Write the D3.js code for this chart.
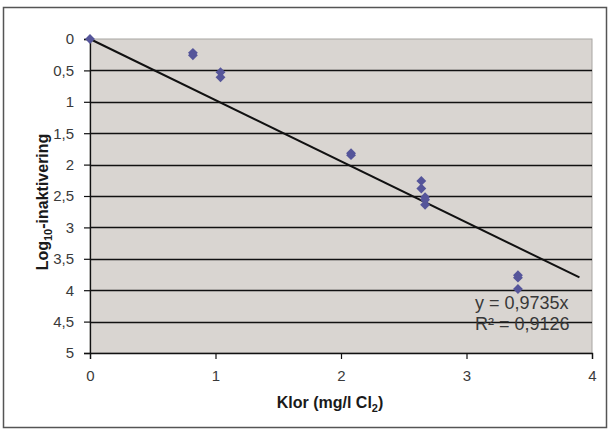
<!DOCTYPE html>
<html>
<head>
<meta charset="utf-8">
<script src="https://cdn.jsdelivr.net/npm/d3@7"></script>
<style>
  html, body { margin: 0; padding: 0; background: #fff; }
  svg { display: block; font-family: "Liberation Sans", Arial, sans-serif; }
</style>
</head>
<body>
<svg id="chart" width="609" height="430"></svg>
<script>
// ---- data ----
const chlorine = [0, 0.82, 0.82, 1.04, 1.04, 2.08, 2.08, 2.64, 2.64, 2.67, 2.67, 2.67, 3.41, 3.41, 3.41];
const logInactivation = [0, 0.22, 0.26, 0.53, 0.61, 1.82, 1.85, 2.26, 2.38, 2.52, 2.56, 2.64, 3.76, 3.80, 3.98];
const xTicks = [0, 1, 2, 3, 4];
const yTicks = [0, 0.5, 1, 1.5, 2, 2.5, 3, 3.5, 4, 4.5, 5];
const trendSlope = 0.9735;
const trendRange = [0, 3.9];
const equationLines = ["y = 0,9735x", "R² = 0,9126"];

// ---- layout ----
const svg = d3.select("#chart");
const plot = { left: 90, right: 592, top: 39, bottom: 353 };

const x = d3.scaleLinear().domain([0, 4]).range([plot.left, plot.right]);
const y = d3.scaleLinear().domain([0, 5]).range([plot.top, plot.bottom]);

const locale = d3.formatLocale({ decimal: ",", thousands: " ", grouping: [3], currency: ["", ""] });
const fmt = locale.format("~g");

// outer border
svg.append("rect")
  .attr("x", 3.5).attr("y", 7.5).attr("width", 603).attr("height", 420)
  .attr("fill", "#fff").attr("stroke", "#555").attr("stroke-width", 1.5);

// plot background
svg.append("rect")
  .attr("x", plot.left).attr("y", plot.top)
  .attr("width", plot.right - plot.left).attr("height", plot.bottom - plot.top)
  .attr("fill", "#d9d5d1").attr("stroke", "#a8a5a2").attr("stroke-width", 1);

// gridlines
svg.append("g").selectAll("line")
  .data(yTicks.filter(d => d > 0 && d < 5))
  .join("line")
  .attr("x1", plot.left).attr("x2", plot.right)
  .attr("y1", d => Math.round(y(d)) + 0.5).attr("y2", d => Math.round(y(d)) + 0.5)
  .attr("stroke", "#111").attr("stroke-width", 1.3);

// y axis
const yAxis = svg.append("g")
  .attr("transform", `translate(${plot.left},0)`)
  .call(d3.axisLeft(y).tickValues(yTicks).tickFormat(fmt).tickSize(6).tickPadding(10));
yAxis.select(".domain").attr("stroke", "#111").attr("stroke-width", 1.3);
yAxis.selectAll(".tick line").attr("stroke", "#111").attr("stroke-width", 1.2);
yAxis.selectAll(".tick text").attr("fill", "#3a3a3a").style("font-size", "15px")
  .style("font-family", "'Liberation Sans', Arial, sans-serif");

// x axis
const xAxis = svg.append("g")
  .attr("transform", `translate(0,${plot.bottom})`)
  .call(d3.axisBottom(x).tickValues(xTicks).tickFormat(fmt).tickSize(6).tickPadding(11));
xAxis.select(".domain").attr("stroke", "#111").attr("stroke-width", 1.3);
xAxis.selectAll(".tick line").attr("stroke", "#111").attr("stroke-width", 1.2);
xAxis.selectAll(".tick text").attr("fill", "#3a3a3a").style("font-size", "15px")
  .style("font-family", "'Liberation Sans', Arial, sans-serif");

// trend line
svg.append("line")
  .attr("x1", x(trendRange[0])).attr("y1", y(trendSlope * trendRange[0]))
  .attr("x2", x(trendRange[1])).attr("y2", y(trendSlope * trendRange[1]))
  .attr("stroke", "#111").attr("stroke-width", 2);

// points
const pts = chlorine.map((c, i) => ({ x: c, y: logInactivation[i] }));
svg.append("g").selectAll("path")
  .data(pts)
  .join("path")
  .attr("transform", d => `translate(${x(d.x)},${y(d.y)})`)
  .attr("d", d3.symbol().type(d3.symbolDiamond2).size(62))
  .attr("fill", "#55559a");

// equation
svg.append("g").selectAll("text")
  .data(equationLines)
  .join("text")
  .attr("x", 475).attr("y", (d, i) => 309 + i * 21)
  .attr("fill", "#383838").style("font-size", "18px")
  .text(d => d);

// x title
const xt = svg.append("text")
  .attr("x", 330).attr("y", 408).attr("text-anchor", "middle")
  .attr("fill", "#1a1a1a").style("font-size", "16px").style("font-weight", "bold");
xt.append("tspan").text("Klor (mg/l Cl");
xt.append("tspan").attr("dy", 4).style("font-size", "11px").text("2");
xt.append("tspan").attr("dy", -4).text(")");

// y title
const yt = svg.append("text")
  .attr("transform", "translate(48,202) rotate(-90)")
  .attr("text-anchor", "middle")
  .attr("fill", "#1a1a1a").style("font-size", "16px").style("font-weight", "bold");
yt.append("tspan").text("Log");
yt.append("tspan").attr("dy", 4).style("font-size", "11px").text("10");
yt.append("tspan").attr("dy", -4).text("-inaktivering");
</script>
</body>
</html>
